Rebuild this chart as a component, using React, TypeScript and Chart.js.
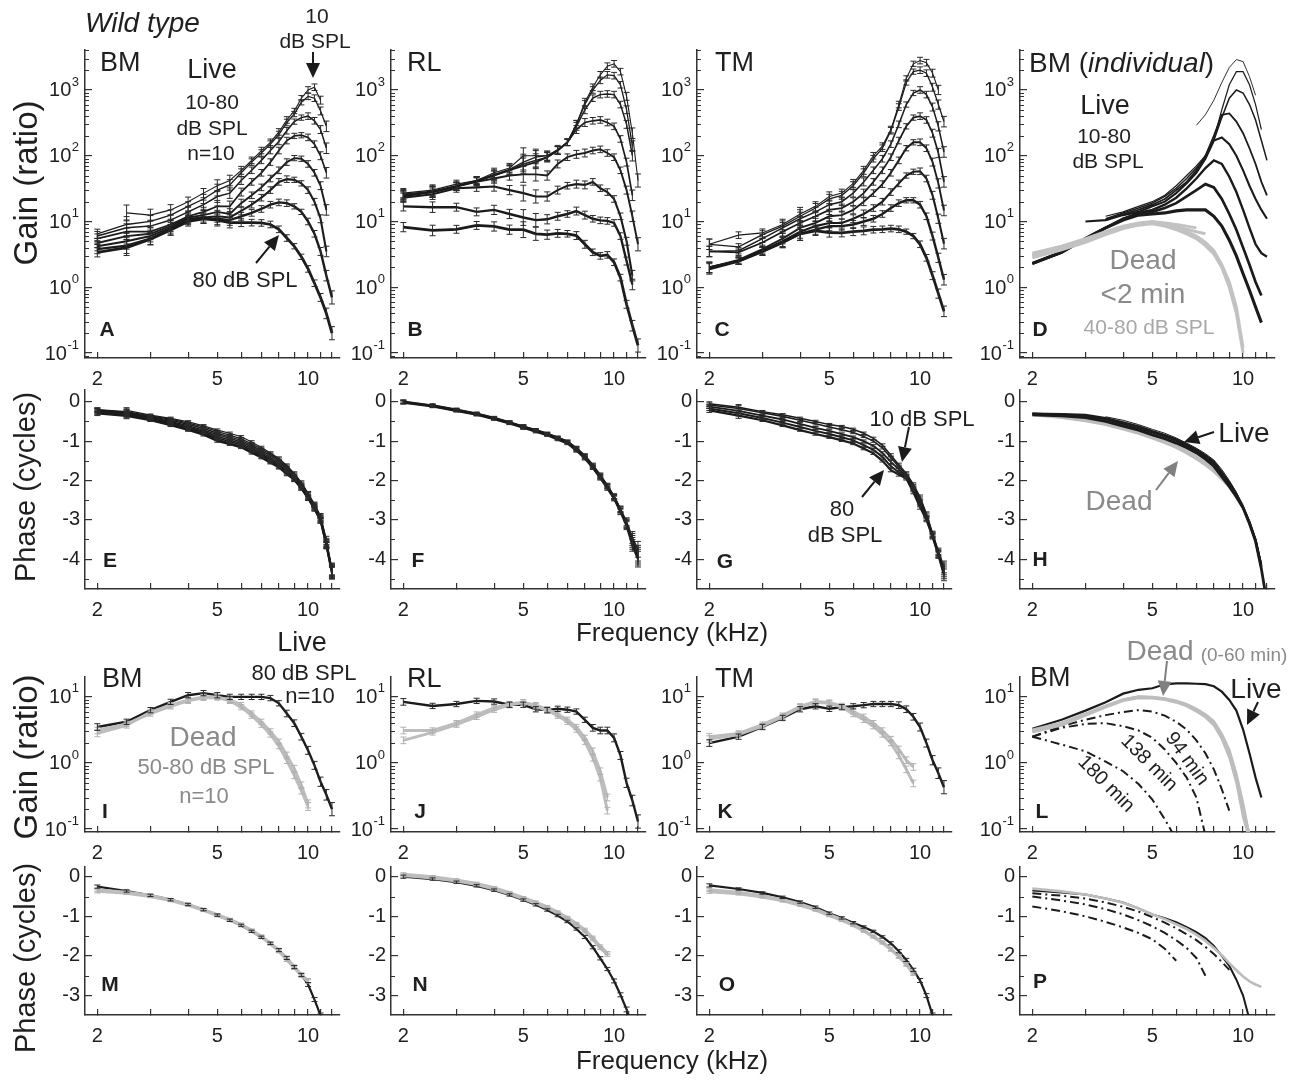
import React, { useEffect, useRef } from "react";
import { Chart, registerables } from "chart.js";

Chart.register(...registerables);

const FONT = "'Liberation Sans', Arimo, Arial, Helvetica, sans-serif";
const n = null;

// ---------------- data ----------------
const FREQ = [2, 2.5, 3, 3.5, 4, 4.5, 5, 5.5, 6, 6.5, 7, 7.5, 8, 8.5, 9, 9.5, 10, 10.5, 11, 11.5, 12];
const X_TICKS = [2, 3, 4, 5, 6, 7, 8, 9, 10, 11, 12];
const X_LABELS = [2, 5, 10];
const GAIN_TICKS_TOP = [0.1, 1, 10, 100, 1000];
const GAIN_TICKS_LOW = [0.1, 1, 10];
const PHASE_TICKS_2 = [0, -1, -2, -3, -4];
const PHASE_TICKS_4 = [0, -1, -2, -3];

// A: BM gain, 10..80 dB SPL
const A10 = [n, 13.5, 12.5, 15, 20, 27, 35, 42, 60, 85, 120, 160, 230, 350, 480, 750, 1000, 1100, 700, n, n];
const A20 = [6.5, 9, 10, 12.5, 17, 22, 30, 36, 55, 80, 110, 150, 210, 320, 430, 650, 800, 750, 480, 280, n];
const A30 = [6, 8, 8.5, 10.5, 14, 18, 24, 27, 42, 60, 85, 120, 165, 240, 330, 380, 400, 340, 250, 130, n];
const A40 = [5.5, 7, 7, 9, 12, 14, 17, 17, 28, 40, 55, 80, 120, 170, 200, 205, 190, 150, 100, 55, n];
const A50 = [4.7, 6, 6.5, 8.5, 11.5, 12.5, 14, 13, 19, 25, 33, 45, 60, 80, 92, 90, 75, 55, 35, 15, n];
const A60 = [4.2, 5, 6, 8, 11, 11.5, 12, 11.5, 14.5, 18, 23, 30, 40, 44, 43, 38, 30, 20, 11, 3.5, n];
const A70 = [3.8, 4.3, 5.5, 7.5, 10.5, 11, 11, 10.5, 12, 13.5, 15.5, 18, 19.5, 19, 17, 14, 10, 6.5, 3.5, 1.5, 0.7];
const A80 = [3.4, 4, 5.4, 7.4, 10, 11, 10.5, 9.6, 9.6, 9.6, 9.5, 9, 7.6, 5.6, 4.2, 2.9, 1.9, 1.15, 0.7, 0.4, 0.2];
const ERR_A = [0.07, 0.12, 0.09, 0.08, 0.07, 0.07, 0.09, 0.08, 0.06, 0.05, 0.05, 0.05, 0.05, 0.05, 0.04, 0.04, 0.05, 0.05, 0.06, 0.08, 0.1];

// B: RL gain
const B10 = [27, 30, 37, 42, 55, 65, 100, 100, 100, 125, 160, 300, 650, 1100, 1700, 2300, 2500, 1900, 800, 220, 42];
const B20 = [26, 29, 35, 42, 52, 62, 80, 95, 100, 120, 160, 300, 600, 1000, 1400, 1700, 1650, 1200, 500, 140, n];
const B30 = [25, 28, 34, 41, 50, 60, 75, 85, 95, 120, 160, 280, 500, 750, 850, 870, 850, 600, 300, 100, n];
const B40 = [25, 28, 34, 41, 50, 60, 70, 80, 95, 120, 160, 250, 320, 340, 350, 320, 280, 180, 80, 25, n];
const B50 = [24, 28, 34, 40, 45, 50, 52, 52, 50, 75, 95, 105, 110, 120, 125, 110, 95, 60, 30, 12, 4.5];
const B60 = [23, 26, 32, 33, 34, 30, 27, 24, 24, 30, 35, 37, 36, 40, 32, 28, 22, 12, 5, 1.5, n];
const B70 = [17, 16.5, 16.5, 14, 15, 13, 11.5, 10.5, 10.8, 12, 13, 14.4, 12.5, 11, 10.4, 10.2, 9.5, 6, 2.5, 1.1, n];
const B80 = [8.2, 7.3, 7.6, 8.7, 8.4, 7.5, 7.5, 6.5, 6.3, 6.6, 6.5, 6.1, 4.5, 3.4, 3, 3.1, 2.4, 1.4, 0.55, 0.26, 0.13];
const ERR_B = [0.07, 0.08, 0.06, 0.06, 0.07, 0.07, 0.12, 0.1, 0.07, 0.06, 0.05, 0.06, 0.06, 0.05, 0.05, 0.05, 0.05, 0.05, 0.06, 0.08, 0.1];

// C: TM gain
const C10 = [4.5, 6.2, 6.7, 9, 13, 17, 24, 27, 38, 60, 100, 140, 250, 600, 1500, 2500, 2800, 2600, 1800, 1000, n];
const C20 = [4.5, 4.1, 6.3, 8.5, 12, 16, 22, 25, 35, 55, 90, 130, 240, 550, 1300, 1900, 2000, 1800, 1100, 600, 330];
const C30 = [3.5, 3.6, 5.5, 8, 11, 14, 18, 20, 27, 40, 60, 90, 150, 300, 600, 900, 1000, 850, 550, 280, 114];
const C40 = [3.5, 3.4, 4.8, 7, 9.5, 12, 15, 16, 20, 27, 40, 60, 95, 170, 280, 380, 400, 350, 220, 110, 40];
const C50 = [2, 2.6, 3.8, 5.5, 8, 9.5, 12, 12.5, 15, 20, 27, 37, 55, 85, 130, 160, 160, 130, 80, 38, 14.7];
const C60 = [2, 2.5, 3.6, 5, 7, 8.5, 9.5, 9.5, 11, 13, 16, 20, 28, 38, 50, 57, 58, 45, 25, 11, 4.6];
const C70 = [2, 2.5, 3.5, 4.8, 6.5, 7.5, 8.5, 8.5, 9, 10, 11, 13, 16, 19, 21, 21, 18, 12, 6, 2.8, 1.3];
const C80 = [1.9, 2.5, 3.5, 4.8, 6.5, 7.2, 6.8, 6.7, 7, 7.2, 7.5, 7.6, 7.8, 7.6, 7, 6, 4.5, 2.8, 1.5, 0.8, 0.43];
const ERR_C = [0.08, 0.05, 0.06, 0.08, 0.1, 0.07, 0.07, 0.06, 0.06, 0.06, 0.05, 0.05, 0.05, 0.05, 0.04, 0.04, 0.05, 0.05, 0.06, 0.07, 0.08];

// D: BM individual, live (black) and dead (gray)
const D10 = [n, n, n, n, n, n, n, n, n, n, 290, 420, 700, 1300, 2200, 2900, 2700, 1600, 830, n, n];
const D20 = [n, n, n, 12, 14, 17, 20, 25, 35, 50, 70, 100, 180, 500, 1200, 1900, 1900, 1200, 600, 250, n];
const D30 = [n, n, n, 11, 13.5, 16, 19, 24, 32, 45, 65, 95, 170, 380, 750, 1000, 900, 600, 350, 170, 85];
const D40 = [n, n, n, 10.5, 13, 15, 18, 22, 30, 40, 60, 100, 200, 420, 440, 330, 220, 130, 75, 40, 25];
const D50 = [n, n, 10, 10.5, 12.5, 14, 17, 20, 27, 38, 55, 90, 170, 190, 150, 100, 60, 35, 22, 15, 11];
const D60 = [2.3, 3.4, 5.5, 8, 11, 13.5, 15, 18, 23, 32, 45, 65, 85, 75, 48, 28, 15, 8, 4.5, 3.3, 2.9];
const D70 = [2.3, 3.4, 5.5, 8, 11, 13, 14, 16, 19, 24, 30, 37, 33, 22, 13, 7.5, 4, 2.2, 1.2, 0.75, n];
const D80 = [2.3, 3.4, 5.5, 8, 10.5, 12.5, 13, 13.5, 14.5, 15, 15, 15, 12, 8.5, 5.2, 3, 1.6, 0.9, 0.5, 0.29, n];
const DD40 = [3.3, 4.2, 5.5, 7, 8.5, 9.5, 10, 9.5, 9, 8.5, 8, n, n, n, n, n, n, n, n, n, n];
const DD50 = [3.1, 4, 5.2, 6.7, 8.2, 9.2, 9.8, 9.2, 8.4, 7.6, 7, 6.5, n, n, n, n, n, n, n, n, n];
const DD60 = [3, 3.9, 5, 6.5, 8, 9, 9.5, 9, 8, 7, 6, 4.8, 3.6, 2.2, 1.2, 0.5, 0.12, n, n, n, n];
const DD80 = [2.8, 3.7, 4.8, 6.3, 7.8, 8.8, 9.2, 8.5, 7.5, 6.5, 5.5, 4.3, 3.2, 2, 1, 0.4, 0.1, n, n, n, n];

// E: BM phase (cycles)
const E10 = [n, -0.22, -0.34, -0.42, -0.51, -0.61, -0.72, -0.8, -0.89, -1.02, -1.16, -1.3, -1.44, -1.62, -1.82, -2.05, -2.33, -2.6, -2.9, -3.5, -4.25];
const E20 = [-0.2, -0.25, -0.36, -0.44, -0.54, -0.64, -0.76, -0.85, -0.94, -1.07, -1.2, -1.33, -1.47, -1.65, -1.85, -2.08, -2.35, -2.62, -2.92, -3.55, -4.27];
const E30 = [-0.21, -0.27, -0.38, -0.47, -0.57, -0.68, -0.8, -0.89, -0.98, -1.11, -1.24, -1.37, -1.51, -1.68, -1.88, -2.11, -2.37, -2.64, -2.95, -3.58, -4.28];
const E40 = [-0.22, -0.28, -0.4, -0.5, -0.61, -0.72, -0.84, -0.93, -1.02, -1.15, -1.28, -1.42, -1.55, -1.72, -1.91, -2.14, -2.4, -2.66, -2.97, -3.6, -4.3];
const E50 = [-0.24, -0.3, -0.42, -0.53, -0.64, -0.75, -0.88, -0.97, -1.06, -1.19, -1.32, -1.46, -1.59, -1.76, -1.94, -2.16, -2.42, -2.68, -2.99, -3.62, -4.31];
const E60 = [-0.26, -0.32, -0.44, -0.56, -0.67, -0.78, -0.92, -1.01, -1.1, -1.23, -1.36, -1.5, -1.62, -1.79, -1.96, -2.18, -2.44, -2.7, -3, -3.63, -4.33];
const E70 = [-0.28, -0.34, -0.46, -0.58, -0.7, -0.81, -0.96, -1.05, -1.14, -1.27, -1.4, -1.53, -1.65, -1.82, -1.98, -2.2, -2.45, -2.72, -3.02, -3.65, -4.34];
const E80 = [-0.3, -0.36, -0.47, -0.6, -0.72, -0.84, -1, -1.08, -1.16, -1.3, -1.42, -1.55, -1.67, -1.84, -1.99, -2.21, -2.46, -2.73, -3.03, -3.66, -4.36];
const ERR_E = [0.05, 0.07, 0.03, 0.03, 0.03, 0.03, 0.03, 0.03, 0.03, 0.03, 0.03, 0.03, 0.04, 0.04, 0.04, 0.04, 0.05, 0.05, 0.06, 0.08, 0.15];

// F: RL phase
const F10 = [n, -0.08, -0.19, -0.29, -0.4, -0.51, -0.62, -0.71, -0.8, -0.9, -1, -1.17, -1.36, -1.6, -1.86, -2.12, -2.4, -2.72, -3.05, -3.45, -3.75];
const F20 = [0.01, -0.09, -0.2, -0.3, -0.41, -0.52, -0.63, -0.72, -0.81, -0.91, -1.01, -1.18, -1.38, -1.62, -1.88, -2.14, -2.41, -2.74, -3.08, -3.5, -3.85];
const F40 = [0, -0.1, -0.21, -0.31, -0.42, -0.53, -0.64, -0.73, -0.82, -0.92, -1.02, -1.2, -1.4, -1.64, -1.9, -2.15, -2.42, -2.75, -3.1, -3.55, -3.9];
const F60 = [-0.01, -0.11, -0.22, -0.32, -0.43, -0.54, -0.65, -0.74, -0.83, -0.94, -1.04, -1.22, -1.42, -1.66, -1.92, -2.17, -2.44, -2.78, -3.12, -3.6, -3.95];
const F80 = [-0.02, -0.12, -0.23, -0.33, -0.44, -0.55, -0.66, -0.76, -0.85, -0.96, -1.06, -1.24, -1.44, -1.68, -1.94, -2.2, -2.46, -2.8, -3.15, -3.65, -4];
const ERR_F = [0.04, 0.03, 0.03, 0.03, 0.03, 0.03, 0.04, 0.03, 0.03, 0.03, 0.03, 0.04, 0.04, 0.04, 0.05, 0.05, 0.06, 0.07, 0.1, 0.15, 0.2];

// G: TM phase
const G10 = [-0.05, -0.14, -0.25, -0.33, -0.42, -0.5, -0.58, -0.63, -0.7, -0.8, -0.93, -1.1, -1.36, -1.6, -1.82, -2.1, -2.42, -2.85, -3.35, -3.8, -4.2];
const G20 = [-0.08, -0.17, -0.28, -0.37, -0.47, -0.56, -0.64, -0.71, -0.78, -0.88, -1, -1.17, -1.42, -1.65, -1.85, -2.14, -2.47, -2.88, -3.37, -3.83, -4.25];
const G40 = [-0.12, -0.23, -0.35, -0.45, -0.56, -0.66, -0.74, -0.82, -0.9, -1, -1.12, -1.3, -1.53, -1.72, -1.89, -2.2, -2.55, -2.93, -3.39, -3.86, -4.3];
const G60 = [-0.17, -0.29, -0.41, -0.53, -0.64, -0.74, -0.82, -0.9, -0.98, -1.1, -1.22, -1.4, -1.64, -1.79, -1.92, -2.25, -2.62, -2.97, -3.41, -3.88, -4.35];
const G80 = [-0.22, -0.35, -0.47, -0.6, -0.72, -0.82, -0.9, -0.98, -1.06, -1.19, -1.31, -1.5, -1.74, -1.85, -1.95, -2.3, -2.68, -3, -3.43, -3.9, -4.4];

// H: BM individual phase
const HL10 = [n, n, n, -0.38, -0.47, -0.58, -0.7, -0.8, -0.92, -1.05, -1.18, -1.32, -1.48, -1.72, -2, -2.3, -2.67, -3.05, -3.5, -4.1, n];
const HL40 = [-0.3, -0.31, -0.33, -0.41, -0.52, -0.62, -0.74, -0.84, -0.95, -1.08, -1.21, -1.36, -1.52, -1.78, -2.05, -2.33, -2.67, -3.05, -3.5, -4.15, n];
const HL60 = [-0.31, -0.33, -0.36, -0.44, -0.56, -0.67, -0.78, -0.88, -0.99, -1.12, -1.25, -1.41, -1.58, -1.83, -2.1, -2.37, -2.68, -3.07, -3.52, -4.2, n];
const HL80 = [-0.33, -0.36, -0.4, -0.5, -0.62, -0.72, -0.84, -0.94, -1.05, -1.17, -1.3, -1.46, -1.64, -1.9, -2.15, -2.42, -2.7, -3.1, -3.55, -4.25, -5.1];
const HD1 = [-0.3, -0.37, -0.45, -0.55, -0.66, -0.77, -0.88, -1, -1.12, -1.26, -1.4, -1.55, -1.72, -1.92, -2.12, -2.38, -2.65, n, n, n, n];
const HD2 = [-0.33, -0.4, -0.48, -0.58, -0.69, -0.8, -0.92, -1.04, -1.16, -1.3, -1.45, -1.6, -1.77, -1.96, -2.16, -2.4, -2.66, n, n, n, n];

// I-K: gain, live 80 dB (black) vs dead (gray)
const I_LIVE = [3.5, 4.2, 6.3, 8.4, 10.6, 11.4, 10.6, 10, 10, 10, 10, 9.6, 8, 5.6, 4, 2.5, 1.55, 0.92, 0.52, 0.33, 0.2];
const I_DEAD1 = [2.8, 3.7, 5.9, 7.5, 9, 10, 10, 9, 7.5, 5.6, 4.2, 3, 2.1, 1.3, 0.82, 0.46, 0.24, n, n, n, n];
const I_DEAD2 = [3.1, 3.9, 5.6, 7.2, 8.7, 9.7, 9.8, 8.7, 7, 5.2, 3.8, 2.7, 1.8, 1.1, 0.65, 0.38, 0.22, n, n, n, n];
const J_LIVE = [8.4, 7.3, 7.8, 8.7, 8.5, 7.6, 7.6, 6.5, 6.3, 6.6, 6.4, 6, 4.5, 3.4, 3.1, 3.1, 2.4, 1.3, 0.5, 0.27, 0.13];
const J_DEAD1 = [2.2, 2.9, 3.8, 5, 6.4, 7.5, 8.2, 7.5, 6.5, 5.5, 4.5, 3.5, 2.4, 1.5, 0.75, 0.3, n, n, n, n, n];
const J_DEAD2 = [3.1, 3.1, 4, 5.4, 6.8, 7.8, 8.3, 7.2, 6.2, 5.2, 4.2, 3.2, 2.1, 1.2, 0.6, 0.19, n, n, n, n, n];
const K_LIVE = [2, 2.5, 3.5, 4.8, 6.5, 7.2, 6.6, 7, 7.2, 7.5, 7.8, 7.8, 7.8, 7.5, 6.5, 5, 3.5, 2, 1.1, 0.7, 0.43];
const K_DEAD1 = [2.3, 2.7, 3.6, 5, 7, 8.3, 8, 7, 5.5, 4.5, 3.6, 2.7, 2, 1.3, 0.8, 0.49, n, n, n, n, n];
const K_DEAD2 = [2.5, 2.8, 3.8, 5.2, 7.2, 8.5, 8.2, 7.3, 6, 5, 4, 3.1, 2.3, 1.6, 1.1, 0.87, n, n, n, n, n];
const ERR_IJK = [0.05, 0.04, 0.04, 0.04, 0.04, 0.04, 0.04, 0.04, 0.04, 0.04, 0.04, 0.04, 0.04, 0.05, 0.05, 0.05, 0.06, 0.06, 0.07, 0.08, 0.1];

// L: BM individual gain over time after death
const L_LIVE = [3.3, 4.5, 6.2, 8.3, 11.2, 12.8, 13.5, 15.5, 16, 16, 15.8, 15.6, 14.5, 12, 9, 6.2, 3.2, 1.4, 0.6, 0.3, n];
const L_DEAD1 = [3, 3.9, 5.4, 7.2, 9, 10, 9.8, 9.3, 8.5, 7.5, 6.3, 5.2, 4, 2.5, 1.4, 0.6, 0.2, 0.08, n, n, n];
const L_DEAD2 = [3.2, 4.1, 5.6, 7.4, 9.2, 10.2, 10, 9.5, 8.8, 7.8, 6.6, 5.5, 4.3, 2.8, 1.6, 0.7, 0.25, 0.08, n, n, n];
const L_DEAD3 = [2.9, 3.7, 5.2, 6.9, 8.7, 9.6, 9.5, 9, 8.2, 7.2, 6, 4.9, 3.7, 2.3, 1.2, 0.5, 0.15, 0.07, n, n, n];
const L_DEAD4 = [3.1, 4, 5.5, 7.3, 9.1, 10.1, 9.9, 9.4, 8.6, 7.6, 6.5, 5.3, 4.1, 2.6, 1.5, 0.65, 0.22, 0.08, n, n, n];
const L_94 = [2.5, 3.6, 4.5, 5.3, 5.9, 6.3, 6, 5.2, 4.2, 3.2, 2.2, 1.4, 0.8, 0.4, 0.19, n, n, n, n, n, n];
const L_138 = [2.5, 3.4, 3.9, 4, 3.6, 3.1, 2.4, 1.6, 1, 0.6, 0.3, 0.08, n, n, n, n, n, n, n, n, n];
const L_180 = [2.5, 1.9, 1.5, 1.05, 0.75, 0.48, 0.28, 0.14, 0.07, n, n, n, n, n, n, n, n, n, n, n, n];

// M-O: phase, live (black) vs dead (gray)
const M_LIVE = [-0.25, -0.36, -0.47, -0.58, -0.7, -0.83, -0.97, -1.1, -1.23, -1.38, -1.53, -1.68, -1.85, -2.05, -2.28, -2.48, -2.72, -3.1, -3.5, n, n];
const M_DEAD1 = [-0.37, -0.42, -0.5, -0.6, -0.72, -0.85, -0.98, -1.1, -1.22, -1.37, -1.52, -1.7, -1.88, -2.1, -2.3, -2.5, -2.65, n, n, n, n];
const M_DEAD2 = [-0.33, -0.39, -0.47, -0.58, -0.7, -0.83, -0.96, -1.08, -1.2, -1.35, -1.5, -1.68, -1.86, -2.06, -2.27, -2.47, -2.62, n, n, n, n];
const N_LIVE = [0, -0.06, -0.14, -0.23, -0.34, -0.46, -0.59, -0.71, -0.84, -0.98, -1.13, -1.32, -1.52, -1.78, -2.06, -2.33, -2.63, -2.98, -3.35, -3.75, n];
const N_DEAD1 = [0.06, 0, -0.08, -0.17, -0.28, -0.4, -0.53, -0.64, -0.76, -0.89, -1.03, -1.18, -1.34, -1.54, -1.76, -1.93, n, n, n, n, n];
const N_DEAD2 = [0.03, -0.03, -0.11, -0.2, -0.31, -0.43, -0.56, -0.67, -0.79, -0.92, -1.06, -1.21, -1.38, -1.58, -1.8, -1.97, n, n, n, n, n];
const O_LIVE = [-0.22, -0.31, -0.41, -0.52, -0.64, -0.77, -0.92, -1.04, -1.16, -1.27, -1.38, -1.52, -1.68, -1.88, -2.1, -2.35, -2.62, -3, -3.5, n, n];
const O_DEAD1 = [-0.38, -0.43, -0.51, -0.61, -0.72, -0.84, -0.98, -1.1, -1.23, -1.37, -1.52, -1.67, -1.84, -2.02, -2.22, -2.45, n, n, n, n, n];
const O_DEAD2 = [-0.33, -0.39, -0.48, -0.58, -0.69, -0.82, -0.96, -1.08, -1.21, -1.35, -1.5, -1.65, -1.82, -2, -2.2, -2.42, n, n, n, n, n];
const ERR_MNO = [0.04, 0.03, 0.03, 0.03, 0.03, 0.03, 0.03, 0.03, 0.03, 0.03, 0.03, 0.03, 0.04, 0.04, 0.04, 0.04, 0.05, 0.05, 0.06, 0.07, 0.08];

// P: BM individual phase over time after death
const P_LIVE = [-0.35, -0.4, -0.45, -0.55, -0.65, -0.8, -0.95, -1.05, -1.15, -1.27, -1.4, -1.55, -1.75, -2, -2.25, -2.6, -3, -3.6, n, n, n];
const P_DEAD = [-0.3, -0.37, -0.45, -0.55, -0.66, -0.8, -0.95, -1.07, -1.2, -1.32, -1.46, -1.62, -1.8, -1.98, -2.18, -2.36, -2.52, -2.64, -2.72, -2.78, n];
const P_94 = [-0.42, -0.48, -0.55, -0.65, -0.76, -0.88, -1.02, -1.16, -1.3, -1.45, -1.6, -1.77, -1.95, -2.15, -2.35, n, n, n, n, n, n];
const P_138 = [-0.5, -0.6, -0.7, -0.82, -0.95, -1.1, -1.25, -1.42, -1.6, -1.8, -2.05, -2.5, n, n, n, n, n, n, n, n, n];
const P_180 = [-0.75, -0.87, -1, -1.14, -1.28, -1.42, -1.58, -1.82, -2.12, n, n, n, n, n, n, n, n, n, n, n, n];

// ---------------- layout / style ----------------
const BLACK = "#1b1b1b";
const GRAY = "#bdbdbd";
const AXIS_C = "#333333";
const TXT = "#1f1f1f";
const DEAD_TXT = "#8a8a8a";
const DASHDOT = [9, 4, 2, 4];
const LW8 = [1.1, 1.3, 1.5, 1.7, 1.9, 2.1, 2.4, 2.8];
const LWD = [0.9, 1.2, 1.5, 1.8, 2.1, 2.4, 2.7, 3.1];

const X_MIN = 1.82;
const X_MAX = 12.76;
const PW = 255;
const AX_W = 78;
const AX_H = 42;
const PAD_T = 10;
const PAD_R = 14;
const COLS = [85, 391, 697, 1020];
const ROWS = [
  { top: 50, bottom: 358, log: true, min: 0.0839, max: 4055, ticks: GAIN_TICKS_TOP },
  { top: 390, bottom: 589, log: false, min: -4.76, max: 0.3, ticks: PHASE_TICKS_2 },
  { top: 677, bottom: 832, log: true, min: 0.0902, max: 20, ticks: GAIN_TICKS_LOW },
  { top: 867, bottom: 1015, log: false, min: -3.49, max: 0.245, ticks: PHASE_TICKS_4 },
];

type SetDef = { data: (number | null)[]; color: string; width: number; dash?: number[]; err?: number[] };
type PanelDef = { col: number; row: number; sets: SetDef[] };

const levels = (arrs: (number | null)[][], widths: number[], err?: number[]): SetDef[] =>
  arrs.map((d, i) => ({ data: d, color: BLACK, width: widths[i], err }));

const PANELS: PanelDef[] = [
  { col: 0, row: 0, sets: levels([A10, A20, A30, A40, A50, A60, A70, A80], LW8, ERR_A) },
  { col: 1, row: 0, sets: levels([B10, B20, B30, B40, B50, B60, B70, B80], LW8, ERR_B) },
  { col: 2, row: 0, sets: levels([C10, C20, C30, C40, C50, C60, C70, C80], LW8, ERR_C) },
  {
    col: 3, row: 0, sets: [
      ...[DD40, DD50, DD60, DD80].map((d) => ({ data: d, color: "#c2c2c2", width: 3 })),
      ...levels([D10, D20, D30, D40, D50, D60, D70, D80], LWD),
    ],
  },
  { col: 0, row: 1, sets: levels([E10, E20, E30, E40, E50, E60, E70, E80], [1.2, 1.3, 1.4, 1.5, 1.6, 1.7, 1.8, 2], ERR_E) },
  { col: 1, row: 1, sets: levels([F10, F20, F40, F60, F80], [1.5, 1.6, 1.8, 2, 2.2], ERR_F) },
  { col: 2, row: 1, sets: levels([G10, G20, G40, G60, G80], [1.5, 1.6, 1.8, 2, 2.2], ERR_E) },
  {
    col: 3, row: 1, sets: [
      ...levels([HL10, HL40, HL60, HL80], [1, 2, 2.4, 2.8]),
      { data: HD1, color: GRAY, width: 3 },
      { data: HD2, color: GRAY, width: 3 },
    ],
  },
  {
    col: 0, row: 2, sets: [
      { data: I_DEAD1, color: GRAY, width: 3, err: ERR_IJK },
      { data: I_DEAD2, color: GRAY, width: 3, err: ERR_IJK },
      { data: I_LIVE, color: BLACK, width: 2.4, err: ERR_IJK },
    ],
  },
  {
    col: 1, row: 2, sets: [
      { data: J_DEAD1, color: GRAY, width: 3, err: ERR_IJK },
      { data: J_DEAD2, color: GRAY, width: 3, err: ERR_IJK },
      { data: J_LIVE, color: BLACK, width: 2.4, err: ERR_IJK },
    ],
  },
  {
    col: 2, row: 2, sets: [
      { data: K_DEAD1, color: GRAY, width: 3, err: ERR_IJK },
      { data: K_DEAD2, color: GRAY, width: 3, err: ERR_IJK },
      { data: K_LIVE, color: BLACK, width: 2.4, err: ERR_IJK },
    ],
  },
  {
    col: 3, row: 2, sets: [
      ...[L_DEAD1, L_DEAD2, L_DEAD3, L_DEAD4].map((d) => ({ data: d, color: GRAY, width: 2.2 })),
      { data: L_LIVE, color: BLACK, width: 2.2 },
      { data: L_94, color: BLACK, width: 2, dash: DASHDOT },
      { data: L_138, color: BLACK, width: 2, dash: DASHDOT },
      { data: L_180, color: BLACK, width: 2, dash: DASHDOT },
    ],
  },
  {
    col: 0, row: 3, sets: [
      { data: M_DEAD1, color: GRAY, width: 3, err: ERR_MNO },
      { data: M_DEAD2, color: GRAY, width: 3, err: ERR_MNO },
      { data: M_LIVE, color: BLACK, width: 2.2, err: ERR_MNO },
    ],
  },
  {
    col: 1, row: 3, sets: [
      { data: N_DEAD1, color: GRAY, width: 3, err: ERR_MNO },
      { data: N_DEAD2, color: GRAY, width: 3, err: ERR_MNO },
      { data: N_LIVE, color: BLACK, width: 2.2, err: ERR_MNO },
    ],
  },
  {
    col: 2, row: 3, sets: [
      { data: O_DEAD1, color: GRAY, width: 3, err: ERR_MNO },
      { data: O_DEAD2, color: GRAY, width: 3, err: ERR_MNO },
      { data: O_LIVE, color: BLACK, width: 2.2, err: ERR_MNO },
    ],
  },
  {
    col: 3, row: 3, sets: [
      { data: P_DEAD, color: GRAY, width: 2.6 },
      { data: P_LIVE, color: BLACK, width: 2 },
      { data: P_94, color: BLACK, width: 2, dash: DASHDOT },
      { data: P_138, color: BLACK, width: 2, dash: DASHDOT },
      { data: P_180, color: BLACK, width: 2, dash: DASHDOT },
    ],
  },
];

function minorTicks(row: (typeof ROWS)[number]): number[] {
  const out: number[] = [];
  if (row.log) {
    const lo = Math.floor(Math.log10(row.min));
    const hi = Math.ceil(Math.log10(row.max));
    for (let d = lo; d <= hi; d++) {
      for (let k = 2; k <= 9; k++) {
        const v = k * Math.pow(10, d);
        if (v > row.min && v < row.max) out.push(v);
      }
    }
  } else {
    for (let v = Math.ceil(row.min) - 0.5; v < row.max; v += 1) if (v > row.min) out.push(v);
  }
  return out;
}

function Panel({ p }: { p: PanelDef }) {
  const ref = useRef<HTMLCanvasElement>(null);
  const row = ROWS[p.row];
  const left = COLS[p.col] - AX_W;
  const top = row.top - PAD_T;
  const w = AX_W + PW + PAD_R;
  const h = PAD_T + (row.bottom - row.top) + AX_H;

  useEffect(() => {
    const minors = minorTicks(row);
    const extras = {
      id: "extras",
      afterDatasetsDraw(chart: any) {
        const { ctx, chartArea, scales } = chart;
        const xs = scales.x;
        const ys = scales.y;
        ctx.save();
        ctx.beginPath();
        ctx.rect(chartArea.left, chartArea.top - 3, chartArea.right - chartArea.left, chartArea.bottom - chartArea.top + 3);
        ctx.clip();
        ctx.lineWidth = 1;
        for (const s of p.sets) {
          if (!s.err) continue;
          ctx.strokeStyle = s.color === GRAY ? "#b0b0b0" : "#2a2a2a";
          s.data.forEach((v, i) => {
            if (v == null) return;
            const e = s.err![i];
            const lo = row.log ? v / Math.pow(10, e) : v - e;
            const hi = row.log ? v * Math.pow(10, e) : v + e;
            const px = xs.getPixelForValue(FREQ[i]);
            const y1 = ys.getPixelForValue(lo);
            const y2 = ys.getPixelForValue(hi);
            ctx.beginPath();
            ctx.moveTo(px, y1);
            ctx.lineTo(px, y2);
            ctx.moveTo(px - 3, y1);
            ctx.lineTo(px + 3, y1);
            ctx.moveTo(px - 3, y2);
            ctx.lineTo(px + 3, y2);
            ctx.stroke();
          });
        }
        ctx.restore();
      },
      afterDraw(chart: any) {
        const { ctx, chartArea, scales } = chart;
        const ys = scales.y;
        ctx.save();
        ctx.strokeStyle = AXIS_C;
        ctx.lineWidth = 1;
        for (const v of minors) {
          const py = Math.round(ys.getPixelForValue(v)) + 0.5;
          ctx.beginPath();
          ctx.moveTo(chartArea.left, py);
          ctx.lineTo(chartArea.left + 4, py);
          ctx.stroke();
        }
        if (row.log) {
          ctx.fillStyle = TXT;
          ctx.textBaseline = "middle";
          for (const v of row.ticks) {
            const py = ys.getPixelForValue(v);
            const es = String(Math.round(Math.log10(v)));
            ctx.font = `13px ${FONT}`;
            const ew = ctx.measureText(es).width;
            const xr = chartArea.left - 6;
            ctx.textAlign = "left";
            ctx.fillText(es, xr - ew, py - 8);
            ctx.font = `20px ${FONT}`;
            ctx.textAlign = "right";
            ctx.fillText("10", xr - ew - 0.5, py + 1);
          }
        }
        ctx.restore();
      },
    };

    const chart = new Chart(ref.current as HTMLCanvasElement, {
      type: "line",
      data: {
        datasets: p.sets.map((s) => ({
          data: FREQ.map((f, i) => ({ x: f, y: s.data[i] })),
          borderColor: s.color,
          borderWidth: s.width,
          borderDash: s.dash || [],
          pointRadius: 0,
          tension: 0,
          fill: false,
          spanGaps: false,
        })),
      },
      options: {
        responsive: false,
        animation: false,
        devicePixelRatio: 1,
        events: [],
        layout: { padding: { top: PAD_T, right: PAD_R, left: 0, bottom: 0 } },
        plugins: { legend: { display: false }, tooltip: { enabled: false } },
        scales: {
          x: {
            type: "logarithmic",
            position: "bottom",
            min: X_MIN,
            max: X_MAX,
            bounds: "data",
            afterBuildTicks: (s: any) => {
              s.ticks = X_TICKS.map((v) => ({ value: v }));
            },
            afterFit: (s: any) => {
              s.height = AX_H;
              s.paddingLeft = 0;
              s.paddingRight = 0;
            },
            border: { display: true, color: AXIS_C, width: 1.5 },
            grid: { display: true, drawOnChartArea: false, drawTicks: true, tickLength: -6, color: AXIS_C, lineWidth: 1.2 },
            ticks: {
              autoSkip: false,
              maxRotation: 0,
              minRotation: 0,
              padding: 15,
              color: TXT,
              font: { family: FONT, size: 20 },
              callback: (v: any) => (X_LABELS.includes(Number(v)) ? String(v) : ""),
            },
          },
          y: {
            type: row.log ? "logarithmic" : "linear",
            position: "left",
            min: row.min,
            max: row.max,
            bounds: "data",
            afterBuildTicks: (s: any) => {
              s.ticks = row.ticks.map((v) => ({ value: v }));
            },
            afterFit: (s: any) => {
              s.width = AX_W;
              s.paddingTop = 0;
              s.paddingBottom = 0;
            },
            border: { display: true, color: AXIS_C, width: 1.5 },
            grid: { display: true, drawOnChartArea: false, drawTicks: true, tickLength: -7, color: AXIS_C, lineWidth: 1.2 },
            ticks: {
              display: !row.log,
              autoSkip: false,
              padding: 12,
              color: TXT,
              font: { family: FONT, size: 20 },
              callback: (v: any) => String(v),
            },
          },
        },
      } as any,
      plugins: [extras as any],
    });
    return () => chart.destroy();
  }, []);

  return (
    <canvas
      ref={ref}
      width={w}
      height={h}
      style={{ position: "absolute", left, top, width: w, height: h }}
    />
  );
}

// ---------------- annotations ----------------
type Txt = { x: number; y: number; t: string; s: number; a?: "start" | "middle" | "end"; c?: string; b?: boolean; i?: boolean; r?: number };
const TEXTS: Txt[] = [
  { x: 85, y: 22, t: "Wild type", s: 28, a: "start", i: true },
  { x: 317, y: 15, t: "10", s: 21 },
  { x: 315, y: 40, t: "dB SPL", s: 21 },
  { x: 100, y: 62, t: "BM", s: 27, a: "start" },
  { x: 212, y: 69, t: "Live", s: 27 },
  { x: 212, y: 101, t: "10-80", s: 21 },
  { x: 212, y: 127, t: "dB SPL", s: 21 },
  { x: 211, y: 152, t: "n=10", s: 21 },
  { x: 245, y: 279, t: "80 dB SPL", s: 22 },
  { x: 107, y: 328, t: "A", s: 21, b: true },
  { x: 407, y: 62, t: "RL", s: 27, a: "start" },
  { x: 415, y: 328, t: "B", s: 21, b: true },
  { x: 715, y: 62, t: "TM", s: 27, a: "start" },
  { x: 722, y: 328, t: "C", s: 21, b: true },
  { x: 1105, y: 105, t: "Live", s: 27 },
  { x: 1104, y: 135, t: "10-80", s: 21 },
  { x: 1108, y: 160, t: "dB SPL", s: 21 },
  { x: 1143, y: 259, t: "Dead", s: 28, c: DEAD_TXT },
  { x: 1143, y: 293, t: "<2 min", s: 28, c: DEAD_TXT },
  { x: 1149, y: 326, t: "40-80 dB SPL", s: 21, c: "#a8a8a8" },
  { x: 1040, y: 328, t: "D", s: 21, b: true },
  { x: 110, y: 559, t: "E", s: 21, b: true },
  { x: 418, y: 559, t: "F", s: 21, b: true },
  { x: 725, y: 560, t: "G", s: 21, b: true },
  { x: 1040, y: 558, t: "H", s: 21, b: true },
  { x: 922, y: 418, t: "10 dB SPL", s: 22 },
  { x: 842, y: 508, t: "80", s: 22 },
  { x: 845, y: 534, t: "dB SPL", s: 22 },
  { x: 1244, y: 432, t: "Live", s: 28 },
  { x: 1119, y: 500, t: "Dead", s: 28, c: DEAD_TXT },
  { x: 672, y: 632, t: "Frequency (kHz)", s: 26 },
  { x: 302, y: 642, t: "Live", s: 27 },
  { x: 304, y: 672, t: "80 dB SPL", s: 22 },
  { x: 310, y: 695, t: "n=10", s: 22 },
  { x: 102, y: 678, t: "BM", s: 27, a: "start" },
  { x: 203, y: 736, t: "Dead", s: 28, c: DEAD_TXT },
  { x: 206, y: 766, t: "50-80 dB SPL", s: 22, c: DEAD_TXT },
  { x: 204, y: 795, t: "n=10", s: 22, c: DEAD_TXT },
  { x: 105, y: 810, t: "I", s: 21, b: true },
  { x: 407, y: 678, t: "RL", s: 27, a: "start" },
  { x: 420, y: 810, t: "J", s: 21, b: true },
  { x: 715, y: 678, t: "TM", s: 27, a: "start" },
  { x: 725, y: 810, t: "K", s: 21, b: true },
  { x: 1030, y: 677, t: "BM", s: 27, a: "start" },
  { x: 1042, y: 810, t: "L", s: 21, b: true },
  { x: 1160, y: 650, t: "Dead", s: 28, c: DEAD_TXT },
  { x: 1244, y: 654, t: "(0-60 min)", s: 19, c: DEAD_TXT },
  { x: 1256, y: 688, t: "Live", s: 28 },
  { x: 1188, y: 758, t: "94 min", s: 20, r: 54 },
  { x: 1150, y: 762, t: "138 min", s: 20, r: 45 },
  { x: 1107, y: 783, t: "180 min", s: 20, r: 45 },
  { x: 110, y: 983, t: "M", s: 21, b: true },
  { x: 420, y: 983, t: "N", s: 21, b: true },
  { x: 727, y: 983, t: "O", s: 21, b: true },
  { x: 1040, y: 980, t: "P", s: 21, b: true },
  { x: 672, y: 1060, t: "Frequency (kHz)", s: 26 },
  { x: 25, y: 183, t: "Gain (ratio)", s: 33, r: -90 },
  { x: 25, y: 487, t: "Phase (cycles)", s: 29, r: -90 },
  { x: 25, y: 757, t: "Gain (ratio)", s: 33, r: -90 },
  { x: 25, y: 958, t: "Phase (cycles)", s: 29, r: -90 },
];

type Arr = { x1: number; y1: number; x2: number; y2: number; c: string };
const ARROWS: Arr[] = [
  { x1: 313, y1: 52, x2: 313, y2: 78, c: BLACK },
  { x1: 256, y1: 263, x2: 279, y2: 235, c: BLACK },
  { x1: 909, y1: 427, x2: 902, y2: 462, c: BLACK },
  { x1: 862, y1: 497, x2: 884, y2: 470, c: BLACK },
  { x1: 1214, y1: 432, x2: 1184, y2: 442, c: BLACK },
  { x1: 1156, y1: 490, x2: 1178, y2: 461, c: "#808080" },
  { x1: 1167, y1: 661, x2: 1163, y2: 696, c: "#808080" },
  { x1: 1258, y1: 702, x2: 1247, y2: 725, c: BLACK },
];

function Arrow({ a }: { a: Arr }) {
  const ang = Math.atan2(a.y2 - a.y1, a.x2 - a.x1);
  const hl = 15;
  const hw = 7;
  const bx = a.x2 - hl * Math.cos(ang);
  const by = a.y2 - hl * Math.sin(ang);
  const p1 = `${bx + hw * Math.sin(ang)},${by - hw * Math.cos(ang)}`;
  const p2 = `${bx - hw * Math.sin(ang)},${by + hw * Math.cos(ang)}`;
  return (
    <g>
      <line x1={a.x1} y1={a.y1} x2={bx} y2={by} stroke={a.c} strokeWidth={2} />
      <polygon points={`${a.x2},${a.y2} ${p1} ${p2}`} fill={a.c} />
    </g>
  );
}

export default function App() {
  return (
    <div style={{ position: "absolute", left: 0, top: 0, width: 1309, height: 1083, background: "#fff", overflow: "hidden" }}>
      {PANELS.map((p, i) => (
        <Panel key={i} p={p} />
      ))}
      <svg width={1309} height={1083} style={{ position: "absolute", left: 0, top: 0, pointerEvents: "none" }}>
        {TEXTS.map((t, i) => (
          <text
            key={i}
            x={t.x}
            y={t.y}
            fontFamily={FONT}
            fontSize={t.s}
            fill={t.c || TXT}
            fontWeight={t.b ? "bold" : "normal"}
            fontStyle={t.i ? "italic" : "normal"}
            textAnchor={t.a || "middle"}
            dominantBaseline="central"
            transform={t.r ? `rotate(${t.r} ${t.x} ${t.y})` : undefined}
          >
            {t.t}
          </text>
        ))}
        <text x={1029} y={62} fontFamily={FONT} fontSize={28} fill={TXT} dominantBaseline="central">
          BM (<tspan fontStyle="italic">individual</tspan>)
        </text>
        {ARROWS.map((a, i) => (
          <Arrow key={i} a={a} />
        ))}
      </svg>
    </div>
  );
}
